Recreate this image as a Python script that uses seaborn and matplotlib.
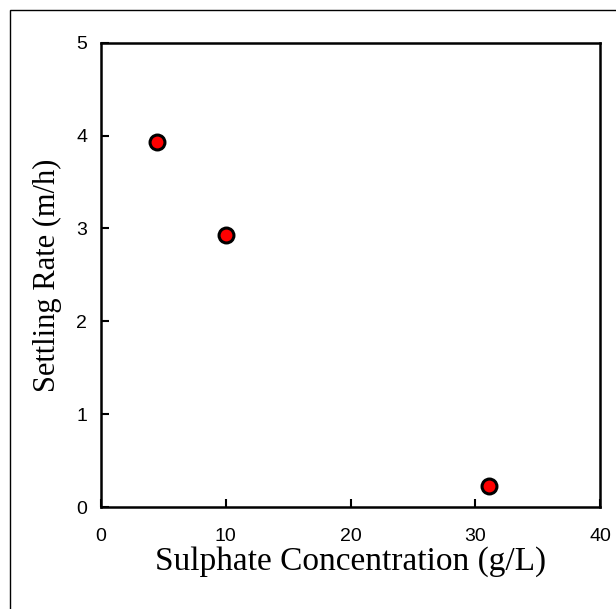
import matplotlib
matplotlib.use("Agg")
import matplotlib.pyplot as plt
import seaborn as sns
import pandas as pd
from matplotlib.patches import Rectangle

sulphate = [4.5, 10.0, 31.1]
settling = [3.93, 2.93, 0.23]
xticks = [0, 10, 20, 30, 40]
yticks = [0, 1, 2, 3, 4, 5]

sns.set_theme(style="white")
plt.rcParams['font.family'] = ['Liberation Sans', 'DejaVu Sans']

df = pd.DataFrame({"x": sulphate, "y": settling})
W, H = 616, 609
fig = plt.figure(figsize=(W / 100, H / 100), dpi=100)
ax = fig.add_axes([101 / W, 1 - 507 / H, (600 - 101) / W, (507 - 42.7) / H])

sns.scatterplot(data=df, x="x", y="y", ax=ax, color="#ff0000", edgecolor="black",
                linewidth=2.2, s=115, zorder=3, legend=False)

ax.set_xlim(0, 40)
ax.set_ylim(0, 5)
ax.set_xticks(xticks)
ax.set_yticks(yticks)
ax.tick_params(direction="in", length=6, width=1.5, colors="black", labelsize=14,
               bottom=True, left=True, top=False, right=False)
ax.tick_params(axis="x", pad=15)
ax.tick_params(axis="y", pad=10)
for s in ax.spines.values():
    s.set_color("black")
    s.set_linewidth(1.8)
ax.set_xlabel("Sulphate Concentration (g/L)", family=["Liberation Serif"], fontsize=24,
              color="black", labelpad=1)
ax.set_ylabel("Settling Rate (m/h)", family=["Liberation Serif"], fontsize=22,
              color="black", labelpad=10)

fig.patches.append(Rectangle((10 / W, -0.1), 1.2, 1 - 10 / H + 0.1,
                             transform=fig.transFigure, fill=False,
                             edgecolor="black", linewidth=1.0))

fig.savefig("out.png", dpi=100, facecolor="white")
